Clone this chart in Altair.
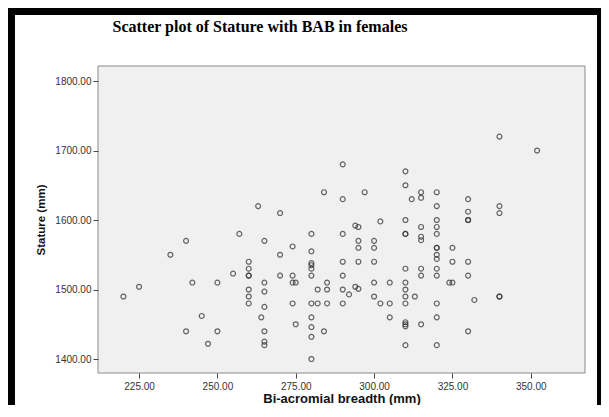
import altair as alt
import pandas as pd

title_text = "Scatter plot of Stature with BAB in females"
x_title = "Bi-acromial breadth (mm)"
y_title = "Stature (mm)"

bab = [220, 225, 235, 240, 240, 242, 245, 247, 250, 250,
       255, 257, 260, 260, 260, 260, 260, 260, 260, 263,
       265, 265, 265, 265, 264, 265, 265, 265, 270, 270,
       270, 274, 274, 274, 275, 274, 275, 280, 280, 280,
       280, 280, 280, 280, 280, 280, 280, 280, 282, 282,
       284, 284, 285, 285, 285, 290, 290, 290, 290, 290,
       290, 290, 292, 294, 295, 294, 295, 295, 295, 295,
       297, 300, 300, 300, 300, 300, 302, 302, 305, 305,
       305, 310, 310, 310, 310, 310, 310, 310, 310, 310,
       310, 310, 310, 310, 310, 312, 313, 315, 315, 315,
       315, 315, 315, 315, 315, 320, 320, 320, 320, 320,
       320, 320, 320, 320, 320, 320, 320, 320, 320, 324,
       325, 325, 325, 330, 330, 330, 330, 330, 330, 330,
       332, 340, 340, 340, 340, 340, 352]
stature = [1490, 1504, 1550, 1570, 1440, 1510, 1462, 1422, 1510, 1440,
           1523, 1580, 1540, 1530, 1520, 1520, 1500, 1490, 1480, 1620,
           1570, 1510, 1497, 1475, 1460, 1440, 1425, 1420, 1610, 1550,
           1520, 1562, 1520, 1510, 1510, 1480, 1450, 1580, 1555, 1538,
           1535, 1530, 1520, 1480, 1460, 1446, 1432, 1400, 1500, 1480,
           1640, 1440, 1510, 1500, 1480, 1680, 1630, 1580, 1540, 1520,
           1500, 1480, 1493, 1592, 1590, 1504, 1501, 1570, 1560, 1540,
           1640, 1570, 1560, 1540, 1510, 1490, 1598, 1480, 1510, 1480,
           1460, 1670, 1650, 1600, 1580, 1580, 1530, 1510, 1500, 1490,
           1480, 1453, 1450, 1447, 1420, 1630, 1490, 1640, 1632, 1590,
           1576, 1571, 1530, 1520, 1450, 1640, 1620, 1600, 1590, 1580,
           1560, 1560, 1550, 1544, 1530, 1520, 1480, 1460, 1420, 1510,
           1510, 1560, 1540, 1630, 1612, 1600, 1600, 1540, 1520, 1440,
           1485, 1720, 1620, 1610, 1490, 1490, 1700]

x_ticks = [225, 250, 275, 300, 325, 350]
y_ticks = [1400, 1500, 1600, 1700, 1800]

df = pd.DataFrame({"bab": bab, "stature": stature})
one = pd.DataFrame({"k": [0]})
W, H = 487, 307
PAD_L, PAD_T, PAD_R, PAD_B = 90, 58, 16, 32

black = alt.Chart(one).mark_rect(color="black").encode(
    x=alt.value(-PAD_L), x2=alt.value(W + PAD_R),
    y=alt.value(-PAD_T), y2=alt.value(H + PAD_B))
white = alt.Chart(one).mark_rect(color="white").encode(
    x=alt.value(-PAD_L + 7), x2=alt.value(W + PAD_R - 4),
    y=alt.value(-PAD_T + 7), y2=alt.value(H + PAD_B))
panel = alt.Chart(one).mark_rect(fill="#f0f0f0", stroke="#8a8a8a", strokeWidth=1).encode(
    x=alt.value(0), x2=alt.value(W), y=alt.value(0), y2=alt.value(H))

axis_common = dict(
    grid=False, zindex=1, domain=False,
    tickColor="#444", tickSize=5, tickWidth=1,
    labelFont="Liberation Sans", labelFontSize=10, labelColor="#333",
    titleFont="Liberation Sans", titleFontWeight="bold", titleColor="#111",
    format=".2f",
)

points = alt.Chart(df).mark_point(
    shape="circle", filled=False, size=24, stroke="#333", strokeWidth=1.2, opacity=0.75
).encode(
    x=alt.X("bab:Q",
            scale=alt.Scale(domain=[211.9, 367.3], nice=False, zero=False),
            axis=alt.Axis(values=x_ticks, title=x_title, labelPadding=3,
                          titleFontSize=13, titleBaseline="alphabetic",
                          titleY=29, titleX=W / 2, **axis_common)),
    y=alt.Y("stature:Q",
            scale=alt.Scale(domain=[1379.9, 1821.6], nice=False, zero=False),
            axis=alt.Axis(values=y_ticks, title=y_title, labelPadding=2,
                          titleFontSize=11.5, titleBaseline="middle",
                          titleX=-57, titleY=H / 2, **axis_common)),
)

title = alt.Chart(pd.DataFrame({"t": [title_text]})).mark_text(
    font="Liberation Serif", fontWeight="bold", fontSize=16, color="black",
    align="center", baseline="alphabetic"
).encode(text="t:N", x=alt.value(162), y=alt.value(-34.5))

chart = alt.layer(black, white, panel, points, title).properties(
    width=W, height=H,
    autosize=alt.AutoSizeParams(type="none"),
    padding={"left": PAD_L, "top": PAD_T, "right": PAD_R, "bottom": PAD_B},
).configure_view(strokeWidth=0)

chart.save("out.html", embed_options={"renderer": "svg", "actions": False})
